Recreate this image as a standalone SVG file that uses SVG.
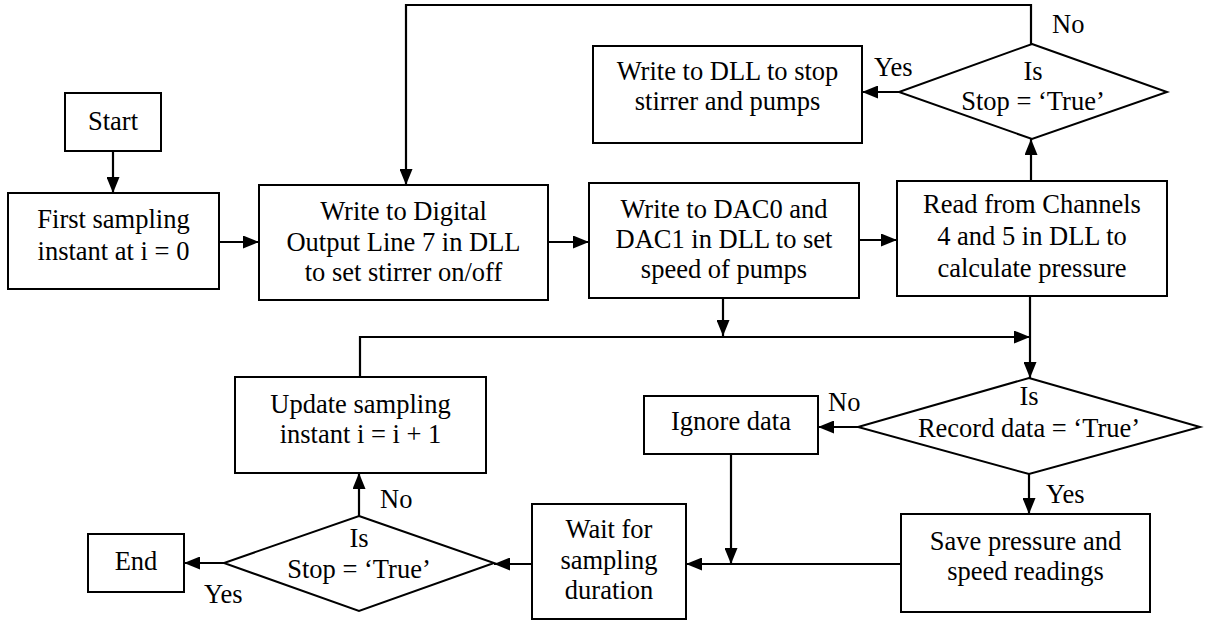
<svg xmlns="http://www.w3.org/2000/svg" width="1209" height="620" viewBox="0 0 1209 620">
<defs>
<style>
.box{fill:#fff;stroke:#000;stroke-width:2}
.t{font-family:'Liberation Serif','Times New Roman',serif;font-size:26.5px;fill:#000;text-anchor:middle}
.l{font-family:'Liberation Serif','Times New Roman',serif;font-size:26.5px;fill:#000}
.c{fill:none;stroke:#000;stroke-width:2.2}
</style>
<marker id="ah" markerUnits="userSpaceOnUse" markerWidth="16" markerHeight="13" refX="16" refY="6.5" orient="auto">
<path d="M0,0 L16,6.5 L0,13 Z" fill="#000"/>
</marker>
</defs>
<rect width="1209" height="620" fill="#fff"/>
<g id="connectors">
<line class="c" x1="113" y1="151" x2="113" y2="193" marker-end="url(#ah)"/>
<line class="c" x1="219" y1="242" x2="259" y2="242" marker-end="url(#ah)"/>
<line class="c" x1="548" y1="242" x2="589" y2="242" marker-end="url(#ah)"/>
<line class="c" x1="859" y1="240" x2="897" y2="240" marker-end="url(#ah)"/>
<line class="c" x1="1031" y1="181" x2="1031" y2="139" marker-end="url(#ah)"/>
<line class="c" x1="899" y1="92" x2="862" y2="92" marker-end="url(#ah)"/>
<polyline class="c" points="1031,44 1031,5 406,5 406,185" marker-end="url(#ah)"/>
<line class="c" x1="723" y1="298" x2="723" y2="336" marker-end="url(#ah)"/>
<polyline class="c" points="360,377 360,337 1030,337" marker-end="url(#ah)"/>
<line class="c" x1="1030" y1="296" x2="1030" y2="378" marker-end="url(#ah)"/>
<line class="c" x1="858" y1="427" x2="818" y2="427" marker-end="url(#ah)"/>
<line class="c" x1="1029" y1="474" x2="1029" y2="514" marker-end="url(#ah)"/>
<line class="c" x1="731" y1="454" x2="731" y2="564" marker-end="url(#ah)"/>
<line class="c" x1="901" y1="564" x2="686" y2="564" marker-end="url(#ah)"/>
<line class="c" x1="532" y1="564" x2="494" y2="564" marker-end="url(#ah)"/>
<line class="c" x1="359" y1="516" x2="359" y2="473" marker-end="url(#ah)"/>
<line class="c" x1="224" y1="563" x2="184" y2="563" marker-end="url(#ah)"/>
</g>
<g id="start"><rect class="box" x="65" y="93" width="96" height="58"/><text class="t" x="113" y="130">Start</text></g>
<g id="first"><rect class="box" x="8" y="193" width="211" height="96"/><text class="t" x="113.5" y="228">First sampling</text><text class="t" x="113.5" y="260">instant at i = 0</text></g>
<g id="digital"><rect class="box" x="259" y="185" width="289" height="115"/><text class="t" x="403.5" y="220">Write to Digital</text><text class="t" x="403.5" y="251">Output Line 7 in DLL</text><text class="t" x="403.5" y="281">to set stirrer on/off</text></g>
<g id="dac"><rect class="box" x="589" y="183" width="270" height="115"/><text class="t" x="724" y="218">Write to DAC0 and</text><text class="t" x="724" y="248">DAC1 in DLL to set</text><text class="t" x="724" y="278">speed of pumps</text></g>
<g id="read"><rect class="box" x="897" y="181" width="270" height="115"/><text class="t" x="1032" y="213">Read from  Channels</text><text class="t" x="1032" y="245">4 and 5 in DLL to</text><text class="t" x="1032" y="277">calculate pressure</text></g>
<g id="stop1"><polygon class="box" points="1032,44 1167,92 1032,139 899,92"/><text class="t" x="1033" y="80">Is</text><text class="t" x="1033" y="110">Stop = ‘True’</text></g>
<g id="writestop"><rect class="box" x="593" y="46" width="269" height="97"/><text class="t" x="727.5" y="80">Write to DLL to stop</text><text class="t" x="727.5" y="110">stirrer and pumps</text></g>
<g id="record"><polygon class="box" points="1029,378 1200,427 1029,474 858,427"/><text class="t" x="1029" y="405">Is</text><text class="t" x="1029" y="437">Record data = ‘True’</text></g>
<g id="ignore"><rect class="box" x="644" y="396" width="174" height="58"/><text class="t" x="731" y="430">Ignore data</text></g>
<g id="save"><rect class="box" x="901" y="514" width="249" height="98"/><text class="t" x="1025.5" y="550">Save pressure and</text><text class="t" x="1025.5" y="580">speed readings</text></g>
<g id="wait"><rect class="box" x="532" y="504" width="154" height="115"/><text class="t" x="609" y="538">Wait for</text><text class="t" x="609" y="569">sampling</text><text class="t" x="609" y="599">duration</text></g>
<g id="stop2"><polygon class="box" points="359,516 494,563 359,611 224,563"/><text class="t" x="359" y="547">Is</text><text class="t" x="359" y="578">Stop = ‘True’</text></g>
<g id="update"><rect class="box" x="235" y="377" width="251" height="96"/><text class="t" x="360.5" y="413">Update sampling</text><text class="t" x="360.5" y="443">instant i = i + 1</text></g>
<g id="end"><rect class="box" x="88" y="534" width="96" height="58"/><text class="t" x="136" y="570">End</text></g>
<g id="labels">
<text class="l" x="874" y="76">Yes</text>
<text class="l" x="1052" y="33">No</text>
<text class="l" x="828" y="411">No</text>
<text class="l" x="1046" y="503">Yes</text>
<text class="l" x="380" y="508">No</text>
<text class="l" x="204" y="603">Yes</text>
</g>
</svg>
